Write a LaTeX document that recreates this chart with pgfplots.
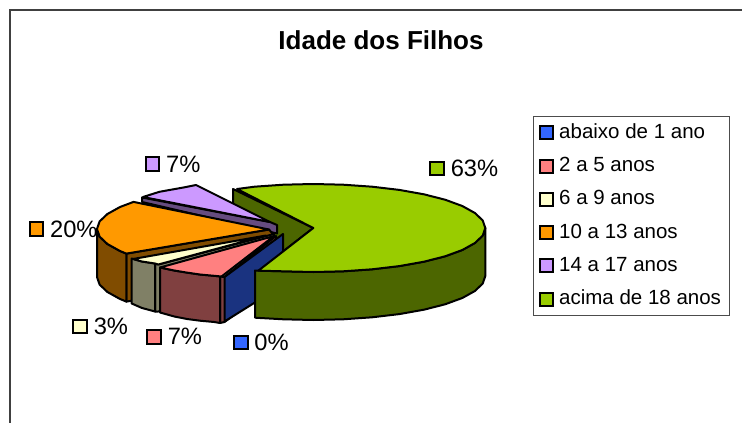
\documentclass[border=0pt]{standalone}
\usepackage{pgfplots}
\pgfplotsset{compat=1.18}
\usepackage{fontspec}
\setmainfont{Liberation Sans}
\definecolor{cBlue}{HTML}{3366FF}\definecolor{dBlue}{HTML}{1A3380}
\definecolor{cPink}{HTML}{FF8080}\definecolor{dPink}{HTML}{804040}
\definecolor{cYel}{HTML}{FFFFCC}\definecolor{dYel}{HTML}{808066}
\definecolor{cOra}{HTML}{FF9900}\definecolor{dOra}{HTML}{804C00}
\definecolor{cPur}{HTML}{CC99FF}\definecolor{dPur}{HTML}{664C80}
\definecolor{cGre}{HTML}{99CC00}\definecolor{dGre}{HTML}{4C6600}
\pgfplotsset{
  pie/.style={draw=black,line width=2pt,line join=round,fill=#1,mark=none,forget plot},
  lab/.style 2 args={only marks,mark=square*,mark size=6.8pt,forget plot,
    mark options={fill=#1,draw=black,line width=2pt},
    nodes near coords={#2},nodes near coords align={anchor=west},
    every node near coord/.style={anchor=west,xshift=12.6pt,inner sep=0pt,text=black,
      font=\fontsize{23.7}{26}\selectfont}},
}
\begin{document}
\begin{tikzpicture}
\begin{axis}[
  at={(0,0)},scale only axis,width=742pt,height=423pt,
  xmin=0,xmax=742,ymin=0,ymax=423,y dir=reverse,hide axis,
  legend style={at={(axis cs:532.7,115.7)},anchor=north west,draw=black!70,line width=1pt,
    fill=white,inner xsep=6pt,inner ysep=7pt,row sep=14.3pt,column sep=5pt,
    nodes={inner sep=0pt,text height=15pt,text depth=4pt,font=\fontsize{20.5}{24}\selectfont}},
  legend cell align=left,
  legend image code/.code={\draw[#1,draw=black,line width=2pt] (0pt,-6.5pt) rectangle (13pt,6.5pt);},
]
% background and frame
\addplot[fill=white,draw=none,forget plot] coordinates {(0,0)(742,0)(742,423)(0,423)} -- cycle;
\addplot[draw=black!75,line width=1.6pt,forget plot,mark=none] coordinates {(742,10)(10,10)(10,423)};
% green inner wall
\addplot[pie=dGre] coordinates {(233,189)(313.3,228)(258,271)(233,271)} -- cycle;
% purple
\addplot[pie=dPur] coordinates {(142,197.5)(142,202)(277,233.5)(277,225)(270,222)} -- cycle;
\addplot[pie=cPur] coordinates {(143,197)(159.4,191.8)(184,187.4)(196,185)(270,222)} -- cycle;
% orange
\addplot[pie=dOra] coordinates {(126.4,253.6)(269,229.5)(272,233)(272,278)(126.4,301.6)} -- cycle;
\addplot[pie=dOra] coordinates {(97,229)(99.6,236.6)(107.4,244)(120,251)(126.4,253.6)(126.4,301.6)(120,299)(107.4,292)(99.6,284.6)(97,277)} -- cycle;
\addplot[pie=cOra] coordinates {(133.5,201.9)(120,207)(107.4,214)(99.6,221.4)(97,229)(99.6,236.6)(107.4,244)(120,251)(126.4,253.6)(269,229.5)} -- cycle;
% yellow
\addplot[pie=dYel] coordinates {(155,263.5)(158.3,264.5)(274,234)(274,280)(158.3,311.5)(155,311.5)} -- cycle;
\addplot[pie=dYel] coordinates {(131.7,258.5)(142,261.5)(155,263.5)(155,311.5)(142,308)(131.7,303.5)} -- cycle;
\addplot[pie=cYel] coordinates {(133,259)(142,261.5)(155,263.5)(158.3,264.5)(266,235.5)} -- cycle;
% pink
\addplot[pie=dPink] coordinates {(220,276.5)(224.5,277)(276,236)(276,284)(224.5,322)(220,323)} -- cycle;
\addplot[pie=dPink] coordinates {(160,267.5)(174.3,270.5)(187,272.6)(200,274.5)(214.2,275.8)(220,276.5)(220,323)(214.2,322)(200,320.7)(187,319)(174.3,316.5)(160,312.5)} -- cycle;
\addplot[pie=cPink] coordinates {(160,267.5)(174.3,270.5)(187,272.6)(200,274.5)(214.2,275.8)(221.5,276.5)(274,236)} -- cycle;
% blue (0%)
\addplot[pie=dBlue] coordinates {(224.5,277)(283,234)(283,285)(224.5,321.5)} -- cycle;
% green outer wall and top
\addplot[pie=dGre] coordinates {(485.3,228)(482.7,235.6)(474.9,243)(462.3,250)(445.1,256.3)(423.9,261.7)(399.3,266.1)(372.1,269.3)(343.2,271.3)(313.3,272)(283.4,271.3)(255,270.5)(255,317.7)(283.4,319.3)(313.3,320)(343.2,319.3)(372.1,317.3)(399.3,314.1)(423.9,309.7)(445.1,304.3)(462.3,298)(474.9,291)(482.7,283.6)(485.3,276)} -- cycle;
\addplot[pie=cGre] coordinates {(237,189)(254.5,186.7)(283.4,184.7)(313.3,184)(343.2,184.7)(372.1,186.7)(399.3,189.9)(423.9,194.3)(445.1,199.7)(462.3,206)(474.9,213)(482.7,220.4)(485.3,228)(482.7,235.6)(474.9,243)(462.3,250)(445.1,256.3)(423.9,261.7)(399.3,266.1)(372.1,269.3)(343.2,271.3)(313.3,272)(283.4,271.3)(258.3,270.7)(313.3,228)} -- cycle;
% data labels
\addplot[lab={cGre}{63\%}] coordinates {(437.2,168.3)};
\addplot[lab={cPur}{7\%}] coordinates {(152.5,164.2)};
\addplot[lab={cOra}{20\%}] coordinates {(36.5,229)};
\addplot[lab={cYel}{3\%}] coordinates {(80.2,326.5)};
\addplot[lab={cPink}{7\%}] coordinates {(154.2,336.8)};
\addplot[lab={cBlue}{0\%}] coordinates {(240.8,342.5)};
% legend
\addlegendimage{fill=cBlue}\addlegendentry{abaixo de 1 ano}
\addlegendimage{fill=cPink}\addlegendentry{2 a 5 anos}
\addlegendimage{fill=cYel}\addlegendentry{6 a 9 anos}
\addlegendimage{fill=cOra}\addlegendentry{10 a 13 anos}
\addlegendimage{fill=cPur}\addlegendentry{14 a 17 anos}
\addlegendimage{fill=cGre}\addlegendentry{\makebox[164.5pt][l]{acima de 18 anos}}
\node[font=\bfseries\fontsize{26}{30}\selectfont,inner sep=0pt] at (axis cs:381,40) {Idade dos Filhos};
\end{axis}
\end{tikzpicture}
\end{document}
